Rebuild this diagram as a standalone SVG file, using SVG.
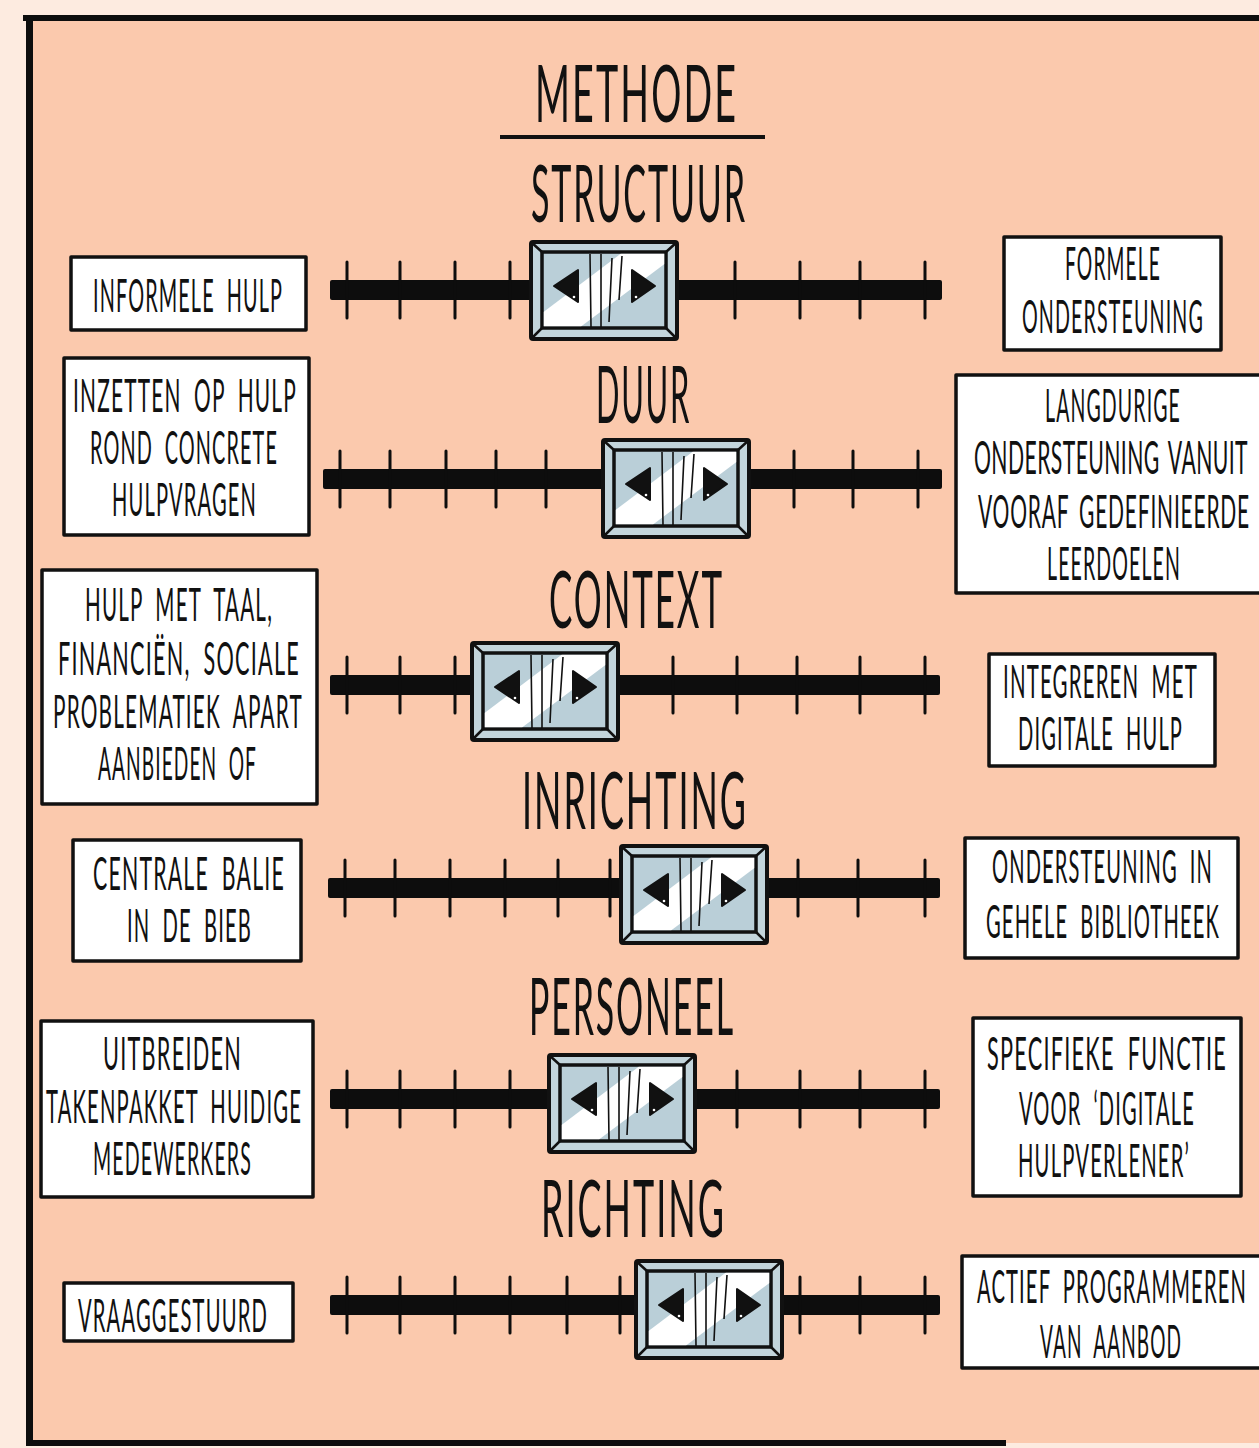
<svg xmlns="http://www.w3.org/2000/svg" xmlns:xlink="http://www.w3.org/1999/xlink" width="1259" height="1448" viewBox="0 0 1259 1448">
<style>
.box{fill:#fff;stroke:#111;stroke-width:3.5;stroke-linejoin:round}
.t{font-family:"Lato","Liberation Sans",sans-serif;font-weight:400;font-size:21px;letter-spacing:1.2px;word-spacing:6px;fill:#111}
.h{font-family:"Lato","Liberation Sans",sans-serif;font-weight:400;font-size:36px;letter-spacing:2px;fill:#111}
.track{fill:#0d0d0d}
.tick{stroke:#0d0d0d;stroke-width:3;stroke-linecap:round}
</style>
<defs>
<g id="knob">
<rect x="0" y="0" width="146" height="97" rx="2" fill="#C3D5DC" stroke="#111" stroke-width="4"/>
<path d="M0 0L11 10M146 0L135 10M0 97L11 86M146 97L135 86" stroke="#111" stroke-width="2.5"/>
<rect x="11" y="10" width="124" height="76" fill="#BACFD8" stroke="#111" stroke-width="3"/>
<polygon points="90,11.5 133.5,11.5 133.5,22 50,84.5 12.5,84.5 12.5,70" fill="#fff"/>
<rect x="11" y="10" width="124" height="76" fill="none" stroke="#111" stroke-width="3"/>
<path d="M59 12L60 85M70 12L70 85M81 16L78 80M91 14L88 58" stroke="#111" stroke-width="1.6" fill="none"/>
<polygon points="23,44 47,28 47,60" fill="#111" stroke="#111" stroke-width="2" stroke-linejoin="round"/>
<polygon points="101,28 101,60 124,44" fill="#111" stroke="#111" stroke-width="2" stroke-linejoin="round"/>
<circle cx="43" cy="55" r="1.3" fill="#fff"/>
<circle cx="105" cy="55" r="1.3" fill="#fff"/>
</g>
</defs>
<rect x="0" y="0" width="1259" height="1448" fill="#FDEBE0"/>
<rect x="28" y="18" width="1231" height="1425" fill="#FBC9AD"/>
<g id="frame" fill="#0d0d0d">
<rect x="23" y="15" width="1236" height="6"/>
<rect x="26" y="15" width="7" height="1431"/>
<rect x="26" y="1440" width="980" height="6"/>
</g>
<g id="titles">
<text class="h" transform="translate(535,122) scale(1,2.2)" font-size="42" textLength="203" lengthAdjust="spacingAndGlyphs">METHODE</text>
<rect x="500" y="135" width="265" height="4" fill="#111"/>
<text class="h" transform="translate(531,222) scale(1,2.2)" textLength="216" lengthAdjust="spacingAndGlyphs">STRUCTUUR</text>
<text class="h" transform="translate(596,423) scale(1,2.2)" textLength="95" lengthAdjust="spacingAndGlyphs">DUUR</text>
<text class="h" transform="translate(549,628) scale(1,2.2)" textLength="175" lengthAdjust="spacingAndGlyphs">CONTEXT</text>
<text class="h" transform="translate(522,829) scale(1,2.2)" textLength="226" lengthAdjust="spacingAndGlyphs">INRICHTING</text>
<text class="h" transform="translate(529,1035) scale(1,2.2)" textLength="206" lengthAdjust="spacingAndGlyphs">PERSONEEL</text>
<text class="h" transform="translate(541,1237) scale(1,2.2)" textLength="185" lengthAdjust="spacingAndGlyphs">RICHTING</text>
</g>
<g id="connectors">
<g id="slider1">
<rect class="track" x="330" y="280" width="612" height="20" rx="2"/>
<path class="tick" d="M347 262V318M400 262V318M455 262V318M510 262V318M735 262V318M800 262V318M860 262V318M925 262V318"/>
<use xlink:href="#knob" href="#knob" x="531" y="242"/>
</g>
<g id="slider2">
<rect class="track" x="323" y="469" width="619" height="20" rx="2"/>
<path class="tick" d="M340 451V507M390 451V507M446 451V507M496 451V507M546 451V507M794 451V507M853 451V507M918 451V507"/>
<use xlink:href="#knob" href="#knob" x="603" y="440"/>
</g>
<g id="slider3">
<rect class="track" x="330" y="675" width="610" height="20" rx="2"/>
<path class="tick" d="M347 657V713M400 657V713M455 657V713M673 657V713M737 657V713M797 657V713M860 657V713M925 657V713"/>
<use xlink:href="#knob" href="#knob" x="472" y="643"/>
</g>
<g id="slider4">
<rect class="track" x="328" y="878" width="612" height="20" rx="2"/>
<path class="tick" d="M345 860V916M395 860V916M450 860V916M505 860V916M558 860V916M610 860V916M798 860V916M858 860V916M925 860V916"/>
<use xlink:href="#knob" href="#knob" x="621" y="846"/>
</g>
<g id="slider5">
<rect class="track" x="330" y="1089" width="610" height="20" rx="2"/>
<path class="tick" d="M347 1071V1127M400 1071V1127M455 1071V1127M510 1071V1127M737 1071V1127M800 1071V1127M860 1071V1127M925 1071V1127"/>
<use xlink:href="#knob" href="#knob" x="549" y="1055"/>
</g>
<g id="slider6">
<rect class="track" x="330" y="1295" width="610" height="20" rx="2"/>
<path class="tick" d="M347 1277V1333M400 1277V1333M455 1277V1333M510 1277V1333M567 1277V1333M620 1277V1333M800 1277V1333M860 1277V1333M925 1277V1333"/>
<use xlink:href="#knob" href="#knob" x="636" y="1261"/>
</g>
</g>
<g id="left1">
<rect class="box" x="71" y="257" width="235" height="73"/>
<text class="t" transform="translate(93,312) scale(1,2.2)" textLength="190" lengthAdjust="spacingAndGlyphs">INFORMELE HULP</text>
</g>
<g id="left2">
<rect class="box" x="64" y="358" width="245" height="177"/>
<text class="t" transform="translate(73,412) scale(1,2.2)" textLength="224" lengthAdjust="spacingAndGlyphs">INZETTEN OP HULP</text>
<text class="t" transform="translate(90,464) scale(1,2.2)" textLength="188" lengthAdjust="spacingAndGlyphs">ROND CONCRETE</text>
<text class="t" transform="translate(112,516) scale(1,2.2)" textLength="145" lengthAdjust="spacingAndGlyphs">HULPVRAGEN</text>
</g>
<g id="left3">
<rect class="box" x="42" y="570" width="275" height="234"/>
<text class="t" transform="translate(85,621) scale(1,2.2)" textLength="188" lengthAdjust="spacingAndGlyphs">HULP MET TAAL,</text>
<text class="t" transform="translate(58,675) scale(1,2.2)" textLength="242" lengthAdjust="spacingAndGlyphs">FINANCIËN, SOCIALE</text>
<text class="t" transform="translate(53,728) scale(1,2.2)" textLength="250" lengthAdjust="spacingAndGlyphs">PROBLEMATIEK APART</text>
<text class="t" transform="translate(98,780) scale(1,2.2)" textLength="159" lengthAdjust="spacingAndGlyphs">AANBIEDEN OF</text>
</g>
<g id="left4">
<rect class="box" x="73" y="840" width="228" height="121"/>
<text class="t" transform="translate(93,890) scale(1,2.2)" textLength="192" lengthAdjust="spacingAndGlyphs">CENTRALE BALIE</text>
<text class="t" transform="translate(127,942) scale(1,2.2)" textLength="125" lengthAdjust="spacingAndGlyphs">IN DE BIEB</text>
</g>
<g id="left5">
<rect class="box" x="41" y="1021" width="272" height="176"/>
<text class="t" transform="translate(103,1070) scale(1,2.2)" textLength="139" lengthAdjust="spacingAndGlyphs">UITBREIDEN</text>
<text class="t" transform="translate(46,1123) scale(1,2.2)" textLength="256" lengthAdjust="spacingAndGlyphs">TAKENPAKKET HUIDIGE</text>
<text class="t" transform="translate(93,1175) scale(1,2.2)" textLength="159" lengthAdjust="spacingAndGlyphs">MEDEWERKERS</text>
</g>
<g id="left6">
<rect class="box" x="64" y="1283" width="229" height="58"/>
<text class="t" transform="translate(78,1332) scale(1,2.2)" textLength="190" lengthAdjust="spacingAndGlyphs">VRAAGGESTUURD</text>
</g>
<g id="right1">
<rect class="box" x="1004" y="237" width="217" height="113"/>
<text class="t" transform="translate(1065,280) scale(1,2.2)" textLength="96" lengthAdjust="spacingAndGlyphs">FORMELE</text>
<text class="t" transform="translate(1022,333) scale(1,2.2)" textLength="182" lengthAdjust="spacingAndGlyphs">ONDERSTEUNING</text>
</g>
<g id="right2">
<rect class="box" x="956" y="375" width="310" height="218"/>
<text class="t" transform="translate(1045,422) scale(1,2.2)" textLength="136" lengthAdjust="spacingAndGlyphs">LANGDURIGE</text>
<text class="t" transform="translate(974,474) scale(1,2.2)" textLength="274" lengthAdjust="spacingAndGlyphs" style="letter-spacing:0.4px;word-spacing:3px">ONDERSTEUNING VANUIT</text>
<text class="t" transform="translate(978,528) scale(1,2.2)" textLength="272" lengthAdjust="spacingAndGlyphs" style="letter-spacing:0.8px;word-spacing:4px">VOORAF GEDEFINIEERDE</text>
<text class="t" transform="translate(1047,580) scale(1,2.2)" textLength="134" lengthAdjust="spacingAndGlyphs">LEERDOELEN</text>
</g>
<g id="right3">
<rect class="box" x="989" y="654" width="226" height="112"/>
<text class="t" transform="translate(1003,698) scale(1,2.2)" textLength="195" lengthAdjust="spacingAndGlyphs">INTEGREREN MET</text>
<text class="t" transform="translate(1018,750) scale(1,2.2)" textLength="165" lengthAdjust="spacingAndGlyphs">DIGITALE HULP</text>
</g>
<g id="right4">
<rect class="box" x="965" y="838" width="273" height="120"/>
<text class="t" transform="translate(992,883) scale(1,2.2)" textLength="221" lengthAdjust="spacingAndGlyphs">ONDERSTEUNING IN</text>
<text class="t" transform="translate(986,938) scale(1,2.2)" textLength="234" lengthAdjust="spacingAndGlyphs">GEHELE BIBLIOTHEEK</text>
</g>
<g id="right5">
<rect class="box" x="973" y="1018" width="268" height="178"/>
<text class="t" transform="translate(987,1070) scale(1,2.2)" textLength="240" lengthAdjust="spacingAndGlyphs">SPECIFIEKE FUNCTIE</text>
<text class="t" transform="translate(1019,1125) scale(1,2.2)" textLength="176" lengthAdjust="spacingAndGlyphs">VOOR ‘DIGITALE</text>
<text class="t" transform="translate(1018,1177) scale(1,2.2)" textLength="172" lengthAdjust="spacingAndGlyphs">HULPVERLENER’</text>
</g>
<g id="right6">
<rect class="box" x="962" y="1256" width="305" height="112"/>
<text class="t" transform="translate(977,1303) scale(1,2.2)" textLength="270" lengthAdjust="spacingAndGlyphs">ACTIEF PROGRAMMEREN</text>
<text class="t" transform="translate(1040,1358) scale(1,2.2)" textLength="142" lengthAdjust="spacingAndGlyphs">VAN AANBOD</text>
</g>
</svg>
